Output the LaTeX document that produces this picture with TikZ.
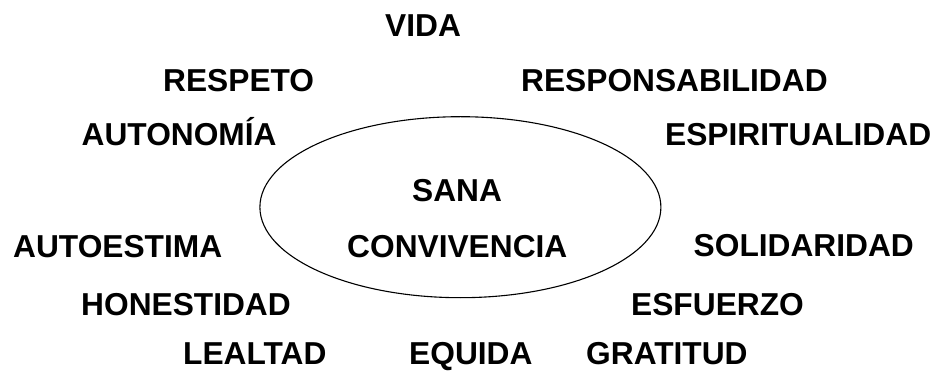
\documentclass[tikz,border=0pt]{standalone}
\usepackage{fontspec}
\setmainfont{Liberation Sans}
\usetikzlibrary{shapes.geometric}
\begin{document}
\begin{tikzpicture}[x=1pt,y=-1pt,
  word/.style={font=\fontsize{31.7}{34}\selectfont\bfseries, inner sep=0pt, anchor=base west}]
\useasboundingbox (0,0) rectangle (934,371);
\node[draw, ellipse, minimum width=401pt, minimum height=181pt, inner sep=0pt, line width=1.1pt] (ell) at (460.4,207.2) {};
\node[word] (vida) at (385,36.7) {VIDA};
\node[word] (respeto) at (163,91.7) {RESPETO};
\node[word] (resp) at (521,91.7) {RESPONSABILIDAD};
\node[word] (auto) at (81.5,146) {AUTONOMÍA};
\node[word] (espi) at (665,146) {ESPIRITUALIDAD};
\node[word] (sana) at (412,202) {SANA};
\node[word] (autoe) at (13,258) {AUTOESTIMA};
\node[word] (conv) at (347,258) {CONVIVENCIA};
\node[word] (soli) at (693.5,257) {SOLIDARIDAD};
\node[word] (hone) at (81,315) {HONESTIDAD};
\node[word] (esfu) at (631,315) {ESFUERZO};
\node[word] (leal) at (183,364) {LEALTAD};
\node[word] (equi) at (409,364) {EQUIDA};
\node[word] (grat) at (586,364) {GRATITUD};
\end{tikzpicture}
\end{document}
